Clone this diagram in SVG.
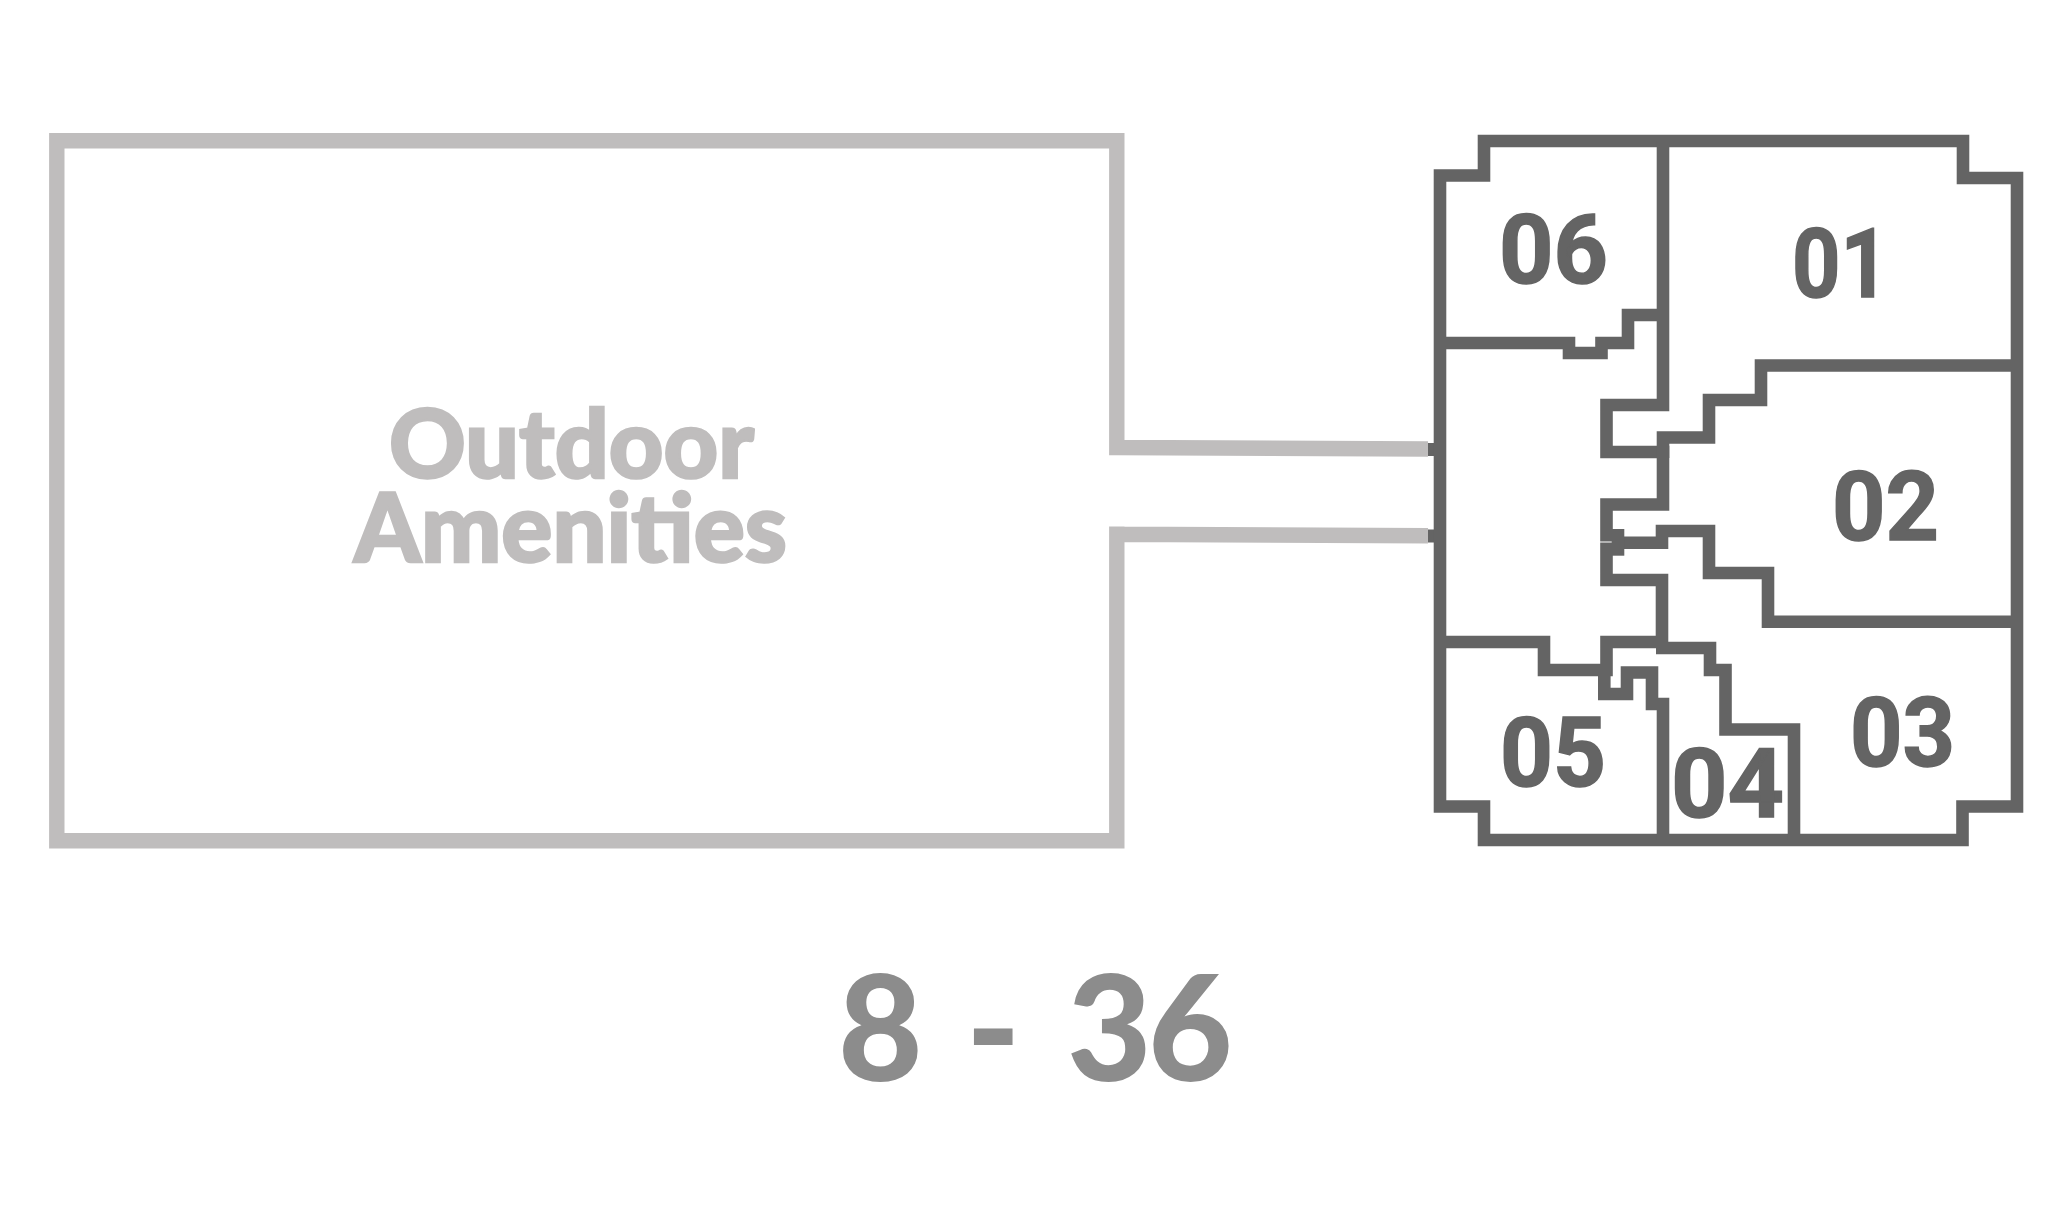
<svg xmlns="http://www.w3.org/2000/svg" width="2072" height="1228" viewBox="0 0 2072 1228">
<style>
.wall{fill:none;stroke:#646464;stroke-width:12.6;stroke-linejoin:miter;stroke-linecap:butt}
.out{fill:none;stroke:#bfbdbd;stroke-width:15.4;stroke-linejoin:miter}
.num{font-family:Roboto,"Liberation Sans",sans-serif;font-weight:700;font-size:97px;fill:#646464;stroke:#646464;stroke-width:1.5}
.big{font-family:Lato,"Liberation Sans",sans-serif;font-weight:900;font-size:96px;fill:#bfbdbd;stroke:#bfbdbd;stroke-width:2.5}
.range{font-family:Lato,"Liberation Sans",sans-serif;font-weight:900;font-size:146px;fill:#8c8c8c}
</style>
<rect width="2072" height="1228" fill="#fff"/>
<g id="outdoor">
<path class="out" d="M1116.8,447.5 L1428,449 M1116.8,534.2 L1428,535.8 M1116.8,455.2 V140.7 H56.8 V840.8 H1116.8 V526.5"/>
<text class="big" x="389" y="478" textLength="365" lengthAdjust="spacingAndGlyphs">Outdoor</text>
<text class="big" x="354" y="561.7" textLength="433" lengthAdjust="spacingAndGlyphs">Amenities</text>
</g>
<g id="connectors">
<rect x="1428" y="443" width="8" height="13" fill="#646464"/>
<rect x="1428" y="529.5" width="8" height="13" fill="#646464"/>
</g>
<g id="plan">
<path class="wall" d="M1484,141 H1963 V178 H2017 V806.5 H1962.5 V840 H1484 V806.5 H1440 V175.5 H1484 Z"/>
<path class="wall" d="M1663,141 V405 H1606.5 V452 H1663 V504.5 H1606.5 V580 H1662 V648"/>
<path class="wall" d="M1440,343 H1569 V353 H1601.5 V343 H1628 V315 H1669"/>
<path class="wall" d="M2017,365.5 H1761 V400 H1709 V437.5 H1663 V458"/>
<path class="wall" d="M1606,542.7 H1662 V531 H1709 V573 H1768 V621.7 H2017"/>
<rect x="1612" y="529" width="12.3" height="26.7" fill="#646464"/>
<rect x="1600" y="541.5" width="11.7" height="1" fill="#fff"/>
<path class="wall" d="M1440,642 H1544 V670 H1606.5 V642 H1662"/>
<path class="wall" d="M1604.3,670 V694 H1627 V672.5 H1652 V704 H1663 V840"/>
<path class="wall" d="M1656,648 H1710 V670 H1725.5 V729.5 H1794 V840"/>
</g>
<g id="unit-06"><text class="num" x="1499" y="283" textLength="109" lengthAdjust="spacingAndGlyphs">06</text></g>
<g id="unit-01"><text class="num" x="1792" y="297" textLength="97" lengthAdjust="spacingAndGlyphs">01</text></g>
<g id="unit-02"><text class="num" x="1832" y="540" textLength="107" lengthAdjust="spacingAndGlyphs">02</text></g>
<g id="unit-03"><text class="num" x="1850" y="766" textLength="105" lengthAdjust="spacingAndGlyphs">03</text></g>
<g id="unit-04"><text class="num" x="1671" y="817" textLength="113" lengthAdjust="spacingAndGlyphs">04</text></g>
<g id="unit-05"><text class="num" x="1500" y="786" textLength="106" lengthAdjust="spacingAndGlyphs">05</text></g>
<g id="range"><text class="range" x="838 920 966 1018 1067 1148" y="1081">8 - 36</text></g>
</svg>
